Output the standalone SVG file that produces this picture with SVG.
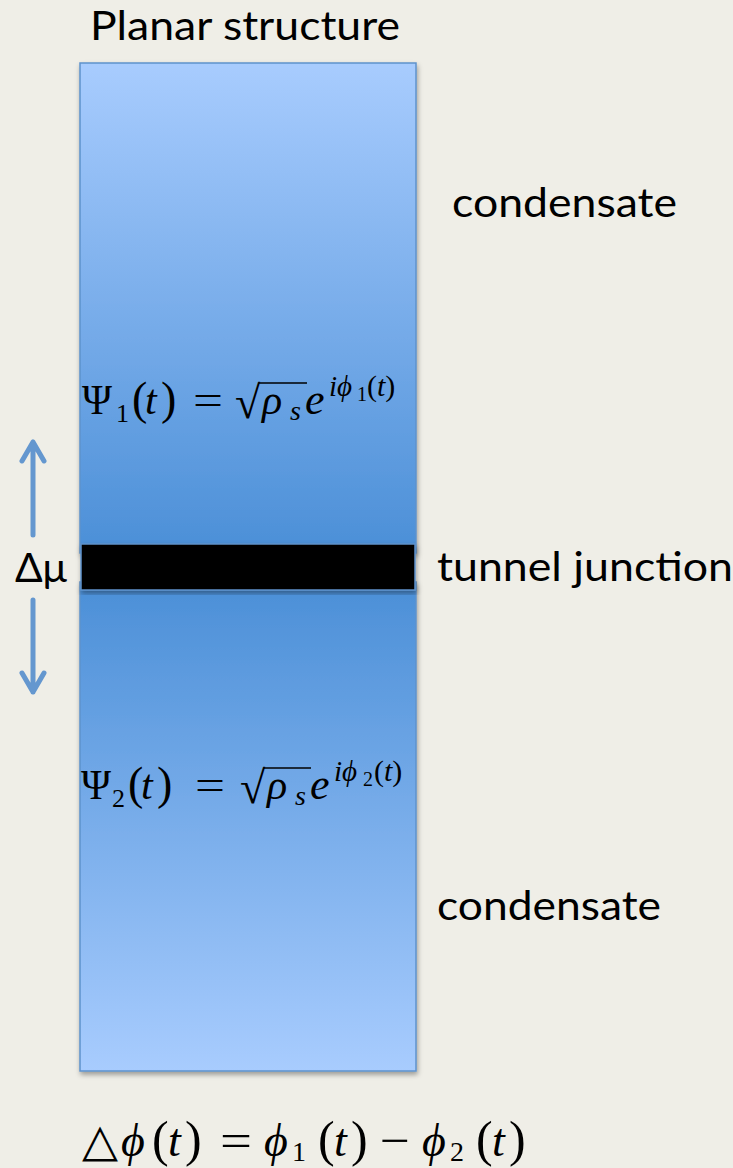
<svg xmlns="http://www.w3.org/2000/svg" width="733" height="1168" viewBox="0 0 733 1168">
<defs>
<linearGradient id="gTop" x1="0" y1="0" x2="0" y2="1">
<stop offset="0" stop-color="#A8CCFE"/>
<stop offset="1" stop-color="#4B8FD7"/>
</linearGradient>
<linearGradient id="gBot" x1="0" y1="0" x2="0" y2="1">
<stop offset="0" stop-color="#4B8FD7"/>
<stop offset="1" stop-color="#A8CCFE"/>
</linearGradient>
<filter id="sh" x="-10%" y="-10%" width="120%" height="120%">
<feDropShadow dx="1" dy="3" stdDeviation="2.5" flood-color="#000" flood-opacity="0.35"/>
</filter>
</defs>
<style>
.lbl{font-family:Lato,"Open Sans","Liberation Sans",sans-serif;fill:#000;}
.m{font-family:"Liberation Serif","DejaVu Serif",serif;fill:#000;}
.mi{font-style:italic;}
.arrow{stroke:#6497CF;stroke-width:5;fill:none;stroke-linecap:round;stroke-linejoin:round;}
</style>
<rect width="733" height="1168" fill="#EFEEE7"/>

<g id="title"><text class="lbl" x="90" y="40" font-size="40" textLength="310" lengthAdjust="spacingAndGlyphs">Planar structure</text></g>

<g id="condensate-top">
<rect x="80" y="63" width="336" height="490" fill="url(#gTop)" stroke="#5E92CC" stroke-width="1.5" filter="url(#sh)"/>
</g>
<g id="condensate-bottom">
<rect x="80" y="582" width="336" height="489" fill="url(#gBot)" stroke="#5E92CC" stroke-width="1.5" filter="url(#sh)"/>
</g>
<g id="junction">
<rect x="81" y="544" width="334" height="46" fill="#000" stroke="#5E92CC" stroke-width="1.5" filter="url(#sh)"/>
</g>

<g id="label-condensate-1"><text class="lbl" x="452" y="217" font-size="40" textLength="225" lengthAdjust="spacingAndGlyphs">condensate</text></g>
<g id="label-junction"><text class="lbl" x="437" y="581" font-size="40" textLength="296" lengthAdjust="spacingAndGlyphs">tunnel junction</text></g>
<g id="label-condensate-2"><text class="lbl" x="437" y="920" font-size="40" textLength="224" lengthAdjust="spacingAndGlyphs">condensate</text></g>
<g id="label-dmu"><text class="lbl" x="15" y="582" font-size="40" textLength="52" lengthAdjust="spacingAndGlyphs">Δμ</text></g>

<g id="connectors">
<path class="arrow" d="M33 535 V442 M22 461 L33 442 L44 461"/>
<path class="arrow" d="M33 600 V692 M22 673 L33 692 L44 673"/>
</g>

<g id="formula-1" class="m" font-size="42">
<text x="82" y="414" textLength="30" lengthAdjust="spacingAndGlyphs">Ψ</text>
<text x="116" y="422" font-size="26">1</text>
<text x="132" y="414" font-size="46">(</text>
<text x="145" y="414" class="mi">t</text>
<text x="161" y="414" font-size="46">)</text>
<text x="193" y="414" textLength="30" lengthAdjust="spacingAndGlyphs">=</text>
<text x="235" y="418" font-size="46">√</text>
<line x1="259" y1="383" x2="307" y2="383" stroke="#000" stroke-width="1.6"/>
<text x="262" y="414" class="mi">ρ</text>
<text x="290" y="420" font-size="28" class="mi">s</text>
<text x="305" y="414" class="mi" font-size="44">e</text>
<text x="329" y="396" font-size="29" class="mi">iϕ</text>
<text x="357" y="401" font-size="20">1</text>
<text x="367" y="396" font-size="30">(<tspan class="mi">t</tspan>)</text>
</g>

<g id="formula-2" class="m" font-size="42">
<text x="81" y="799" textLength="30" lengthAdjust="spacingAndGlyphs">Ψ</text>
<text x="112" y="807" font-size="26">2</text>
<text x="128" y="799" font-size="46">(</text>
<text x="141" y="799" class="mi">t</text>
<text x="157" y="799" font-size="46">)</text>
<text x="195" y="799" textLength="30" lengthAdjust="spacingAndGlyphs">=</text>
<text x="240" y="803" font-size="46">√</text>
<line x1="264" y1="768" x2="311" y2="768" stroke="#000" stroke-width="1.6"/>
<text x="267" y="799" class="mi">ρ</text>
<text x="295" y="805" font-size="28" class="mi">s</text>
<text x="310" y="799" class="mi" font-size="44">e</text>
<text x="334" y="781" font-size="29" class="mi">iϕ</text>
<text x="363" y="786" font-size="20">2</text>
<text x="374" y="781" font-size="30">(<tspan class="mi">t</tspan>)</text>
</g>

<g id="formula-3" class="m" font-size="46">
<text x="82" y="1156" textLength="36" lengthAdjust="spacingAndGlyphs">△</text>
<text x="121" y="1156" class="mi">ϕ</text>
<text x="152" y="1156" font-size="50">(</text>
<text x="168" y="1156" class="mi">t</text>
<text x="185" y="1156" font-size="50">)</text>
<text x="220" y="1156" textLength="32" lengthAdjust="spacingAndGlyphs">=</text>
<text x="264" y="1156" class="mi">ϕ</text>
<text x="292" y="1161" font-size="28">1</text>
<text x="318" y="1156" font-size="50">(</text>
<text x="334" y="1156" class="mi">t</text>
<text x="351" y="1156" font-size="50">)</text>
<text x="380" y="1156" textLength="30" lengthAdjust="spacingAndGlyphs">−</text>
<text x="422" y="1156" class="mi">ϕ</text>
<text x="450" y="1161" font-size="28">2</text>
<text x="476" y="1156" font-size="50">(</text>
<text x="492" y="1156" class="mi">t</text>
<text x="509" y="1156" font-size="50">)</text>
</g>
</svg>
